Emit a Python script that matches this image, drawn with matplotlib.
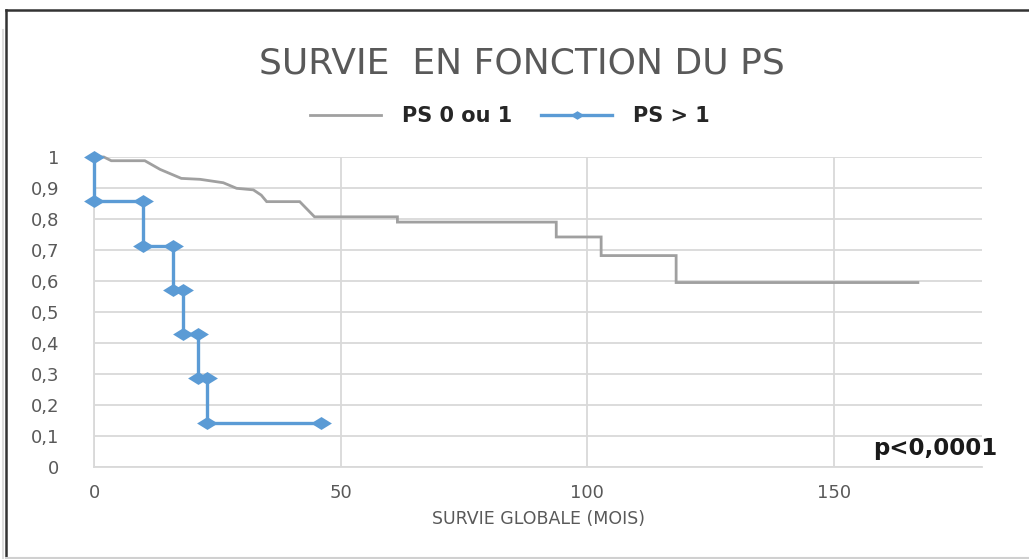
import matplotlib
matplotlib.use("Agg")
import matplotlib.pyplot as plt
from matplotlib.lines import Line2D
from matplotlib.path import Path

# ---- data ----
gray_label = "PS 0 ou 1"
gray_t = [0, 2, 3.5, 10.3, 13.4, 17.7, 21.5, 26.2, 28.9, 32.3, 33.9, 35, 41.7, 44.7,
          61.5, 61.5, 93.7, 93.7, 102.8, 102.8, 118, 118, 167]
gray_s = [1, 1, 0.988, 0.988, 0.96, 0.931, 0.928, 0.917, 0.899, 0.894, 0.877, 0.856, 0.856, 0.807,
          0.807, 0.79, 0.79, 0.742, 0.742, 0.682, 0.682, 0.595, 0.595]

blue_label = "PS > 1"
blue_t = [0, 0, 10, 10, 16, 16, 18, 18, 21, 21, 23, 23, 46]
blue_s = [1, 0.857, 0.857, 0.714, 0.714, 0.571, 0.571, 0.429, 0.429, 0.286, 0.286, 0.143, 0.143]

x_ticks = [0, 50, 100, 150]
y_ticks = [0, 0.1, 0.2, 0.3, 0.4, 0.5, 0.6, 0.7, 0.8, 0.9, 1]
y_tick_labels = ["0", "0,1", "0,2", "0,3", "0,4", "0,5", "0,6", "0,7", "0,8", "0,9", "1"]

title = "SURVIE  EN FONCTION DU PS"
x_label = "SURVIE GLOBALE (MOIS)"
p_text = "p<0,0001"

# ---- styling ----
W, H = 1029, 559
fig = plt.figure(figsize=(W / 100, H / 100), dpi=100)
fig.patch.set_facecolor("white")

left, right, bottom, top = 94, 982, 467, 157
ax = fig.add_axes([left / W, 1 - bottom / H, (right - left) / W, (bottom - top) / H])

gray_col = "#a0a0a0"
blue_col = "#5b9bd5"
text_gray = "#595959"

diamond = Path([(-1, 0), (0, 0.62), (1, 0), (0, -0.62), (-1, 0)],
               [Path.MOVETO, Path.LINETO, Path.LINETO, Path.LINETO, Path.CLOSEPOLY])

ax.plot(gray_t, gray_s, color=gray_col, lw=2.0, solid_joinstyle="miter", zorder=3, clip_on=False)
ax.plot(blue_t, blue_s, color=blue_col, lw=2.4, marker=diamond, markersize=15,
        markeredgewidth=0, zorder=4, clip_on=False)

ax.set_xlim(0, 180)
ax.set_ylim(0, 1)
ax.set_xticks(x_ticks)
ax.set_xticklabels([str(v) for v in x_ticks])
ax.set_yticks(y_ticks)
ax.set_yticklabels(y_tick_labels)
ax.grid(True, color="#d9d9d9", lw=1.3)
ax.set_axisbelow(True)
for s in ["top", "right"]:
    ax.spines[s].set_visible(False)
for s in ["left", "bottom"]:
    ax.spines[s].set_color("#d9d9d9")
    ax.spines[s].set_linewidth(1.3)
ax.tick_params(length=0, labelcolor=text_gray, labelsize=13)
ax.tick_params(axis="y", pad=25)
ax.tick_params(axis="x", pad=12)
for lab in ax.get_yticklabels() + ax.get_xticklabels():
    lab.set_family("DejaVu Sans")

ax.set_xlabel(x_label, color=text_gray, fontsize=12.5, labelpad=6)

fig.text(522 / W, 1 - 63 / H, title, ha="center", va="center", color=text_gray,
         fontsize=26, family="DejaVu Sans")

handles = [
    Line2D([], [], color=gray_col, lw=2.0),
    Line2D([], [], color=blue_col, lw=2.4, marker=diamond, markersize=10, markeredgewidth=0),
]
leg = fig.legend(handles, [gray_label, blue_label], loc="center", ncol=2,
                 bbox_to_anchor=(510 / W, 1 - 116 / H), frameon=False,
                 prop={"family": "DejaVu Sans", "weight": "bold", "size": 15},
                 handlelength=3.4, handletextpad=1.0, columnspacing=1.4)
for t in leg.get_texts():
    t.set_color("#262626")

fig.text(873 / W, 1 - 449 / H, p_text, ha="left", va="center", color="#1a1a1a",
         fontsize=16.5, fontweight="bold", family="DejaVu Sans")

# frame
fig.add_artist(Line2D([6 / W, 1], [1 - 10 / H, 1 - 10 / H], color="#333333", lw=1.8))
fig.add_artist(Line2D([6 / W, 6 / W], [0, 1 - 10 / H], color="#333333", lw=1.8))
fig.add_artist(Line2D([3 / W, 3 / W], [0, 1 - 30 / H], color="#dddddd", lw=1.5))
fig.add_artist(Line2D([6 / W, 1], [1.5 / H, 1.5 / H], color="#d0d0d0", lw=1.5))

fig.savefig("out.png", dpi=100, facecolor="white")
